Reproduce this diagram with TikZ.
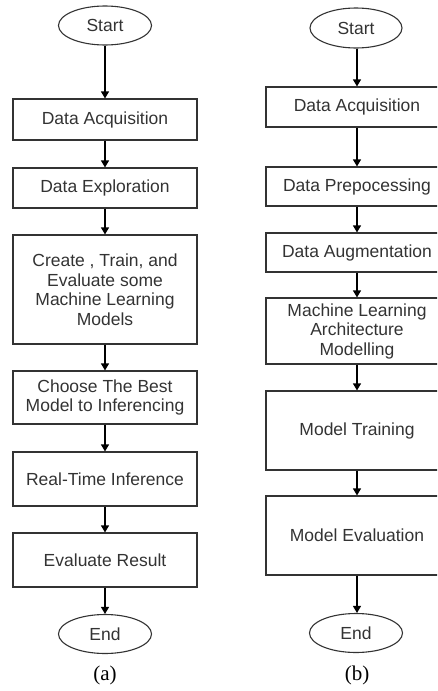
\documentclass[tikz,border=0pt]{standalone}
\usepackage{fontspec}
\setmainfont{Liberation Sans}
\newfontfamily\capfont{Liberation Serif}
\usetikzlibrary{shapes.geometric,arrows.meta}
\definecolor{ink}{HTML}{333333}
\tikzset{
  base/.style={draw=ink, line width=1.1pt, text=ink, inner sep=0pt, align=center,
    font=\fontsize{17.5}{19.5}\selectfont},
  procbox/.style={base, rectangle, minimum width=184pt},
  procboxb/.style={base, rectangle, minimum width=182pt},
  term/.style={base, ellipse, minimum width=93pt, minimum height=39pt},
  flow/.style={draw=black, line width=1.1pt, -{Triangle[width=8pt,length=7pt]}},
  caplabel/.style={font=\capfont\fontsize{21}{24}\selectfont, text=black, inner sep=0pt}
}
\begin{document}
\begin{tikzpicture}[x=1pt,y=-1pt]
\useasboundingbox (0,0) rectangle (437,691);
\clip (0,0) rectangle (437,691);
% column (a)
\node[term] (sa) at (105,25.5) {Start};
\node[procbox, minimum height=41pt] (a1) at (105,119.5) {Data Acquisition};
\node[procbox, minimum height=40pt] (a2) at (105,188) {Data Exploration};
\node[procbox, minimum height=109pt] (a3) at (105,289.5) {Create , Train, and\\Evaluate some\\Machine Learning\\Models};
\node[procbox, minimum height=53pt] (a4) at (105,397.5) {Choose The Best\\Model to Inferencing};
\node[procbox, minimum height=54pt] (a5) at (105,479) {Real-Time Inference};
\node[procbox, minimum height=54pt] (a6) at (105,560) {Evaluate Result};
\node[term] (ea) at (105,634) {End};
\node[caplabel] (capa) at (105,675) {(a)};
\draw[flow] (sa) -- (a1);
\draw[flow] (a1) -- (a2);
\draw[flow] (a2) -- (a3);
\draw[flow] (a3) -- (a4);
\draw[flow] (a4) -- (a5);
\draw[flow] (a5) -- (a6);
\draw[flow] (a6) -- (ea);
% column (b)
\node[term, minimum width=92pt, minimum height=40pt] (sb) at (356,28) {Start};
\node[procboxb, minimum height=40pt] (b1) at (357,107) {Data Acquisition};
\node[procboxb, minimum height=39pt] (b2) at (357,186.5) {Data Prepocessing};
\node[procboxb, minimum height=39pt] (b3) at (357,252.5) {Data Augmentation};
\node[procboxb, minimum height=66pt] (b4) at (357,331) {Machine Learning\\Architecture\\Modelling};
\node[procboxb, minimum height=79pt] (b5) at (357,430.5) {Model Training};
\node[procboxb, minimum height=79pt] (b6) at (357,535.5) {Model Evaluation};
\node[term] (eb) at (356,633) {End};
\node[caplabel] (capb) at (357,675) {(b)};
\draw[flow] (sb.south -| b1) -- (b1);
\draw[flow] (b1) -- (b2);
\draw[flow] (b2) -- (b3);
\draw[flow] (b3) -- (b4);
\draw[flow] (b4) -- (b5);
\draw[flow] (b5) -- (b6);
\draw[flow] (b6) -- (eb.north -| b6);
\end{tikzpicture}
\end{document}
